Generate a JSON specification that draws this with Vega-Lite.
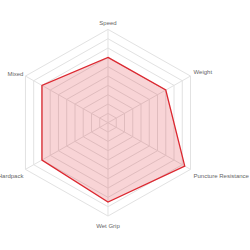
{
  "$schema": "https://vega.github.io/schema/vega-lite/v6.json",
  "width": 250,
  "height": 250,
  "autosize": {"type": "none"},
  "padding": 0,
  "background": "white",
  "config": {"view": {"stroke": null}, "text": {"font": "Liberation Sans", "fontSize": 6, "fill": "#666666"}},
  "datasets": {
    "scores": [
      {"axis": "Speed", "idx": 0, "value": 70},
      {"axis": "Weight", "idx": 1, "value": 70},
      {"axis": "Puncture Resistance", "idx": 2, "value": 93},
      {"axis": "Wet Grip", "idx": 3, "value": 85},
      {"axis": "Hardpack", "idx": 4, "value": 80},
      {"axis": "Mixed", "idx": 5, "value": 80}
    ],
    "grid": [
      {"idx": 0, "levels": [10, 20, 30, 40, 50, 60, 70, 80, 90, 100]},
      {"idx": 1, "levels": [10, 20, 30, 40, 50, 60, 70, 80, 90, 100]},
      {"idx": 2, "levels": [10, 20, 30, 40, 50, 60, 70, 80, 90, 100]},
      {"idx": 3, "levels": [10, 20, 30, 40, 50, 60, 70, 80, 90, 100]},
      {"idx": 4, "levels": [10, 20, 30, 40, 50, 60, 70, 80, 90, 100]},
      {"idx": 5, "levels": [10, 20, 30, 40, 50, 60, 70, 80, 90, 100]}
    ]
  },
  "encoding": {
    "x": {"field": "px", "type": "quantitative", "scale": {"domain": [-113.3, 149], "nice": false, "zero": false}, "axis": null},
    "y": {"field": "py", "type": "quantitative", "scale": {"domain": [-136.4, 131.5], "nice": false, "zero": false}, "axis": null}
  },
  "layer": [
    {
      "data": {"name": "grid"},
      "transform": [
        {"flatten": ["levels"], "as": ["level"]},
        {"calculate": "datum.level * sin(datum.idx * PI / 3)", "as": "px"},
        {"calculate": "datum.level * cos(datum.idx * PI / 3)", "as": "py"}
      ],
      "mark": {"type": "line", "interpolate": "linear-closed", "stroke": "#e2e2e2", "strokeWidth": 1},
      "encoding": {"detail": {"field": "level"}, "order": {"field": "idx", "type": "quantitative"}}
    },
    {
      "data": {"name": "grid"},
      "transform": [
        {"calculate": "100 * sin(datum.idx * PI / 3)", "as": "px"},
        {"calculate": "100 * cos(datum.idx * PI / 3)", "as": "py"}
      ],
      "mark": {"type": "rule", "stroke": "#e2e2e2", "strokeWidth": 1},
      "encoding": {"x2": {"datum": 0}, "y2": {"datum": 0}}
    },
    {
      "data": {"name": "scores"},
      "transform": [
        {"calculate": "datum.value * sin(datum.idx * PI / 3)", "as": "px"},
        {"calculate": "datum.value * cos(datum.idx * PI / 3)", "as": "py"}
      ],
      "mark": {"type": "line", "interpolate": "linear-closed", "fill": "#dc2830", "fillOpacity": 0.2, "stroke": "#dc2830", "strokeWidth": 1.3},
      "encoding": {"order": {"field": "idx", "type": "quantitative"}}
    },
    {
      "data": {"name": "scores"},
      "transform": [
        {"filter": "datum.idx == 0"},
        {"calculate": "100 * sin(datum.idx * PI / 3)", "as": "px"},
        {"calculate": "100 * cos(datum.idx * PI / 3)", "as": "py"}
      ],
      "mark": {"type": "text", "align": "center", "baseline": "alphabetic", "dy": -4},
      "encoding": {"text": {"field": "axis"}}
    },
    {
      "data": {"name": "scores"},
      "transform": [
        {"filter": "datum.idx == 3"},
        {"calculate": "100 * sin(datum.idx * PI / 3)", "as": "px"},
        {"calculate": "100 * cos(datum.idx * PI / 3)", "as": "py"}
      ],
      "mark": {"type": "text", "align": "center", "baseline": "alphabetic", "dy": 11.5},
      "encoding": {"text": {"field": "axis"}}
    },
    {
      "data": {"name": "scores"},
      "transform": [
        {"filter": "datum.idx == 1"},
        {"calculate": "100 * sin(datum.idx * PI / 3)", "as": "px"},
        {"calculate": "100 * cos(datum.idx * PI / 3)", "as": "py"}
      ],
      "mark": {"type": "text", "align": "left", "baseline": "alphabetic", "dx": 3, "dy": -2},
      "encoding": {"text": {"field": "axis"}}
    },
    {
      "data": {"name": "scores"},
      "transform": [
        {"filter": "datum.idx == 2"},
        {"calculate": "100 * sin(datum.idx * PI / 3)", "as": "px"},
        {"calculate": "100 * cos(datum.idx * PI / 3)", "as": "py"}
      ],
      "mark": {"type": "text", "align": "left", "baseline": "alphabetic", "dx": 3, "dy": 9},
      "encoding": {"text": {"field": "axis"}}
    },
    {
      "data": {"name": "scores"},
      "transform": [
        {"filter": "datum.idx == 5"},
        {"calculate": "100 * sin(datum.idx * PI / 3)", "as": "px"},
        {"calculate": "100 * cos(datum.idx * PI / 3)", "as": "py"}
      ],
      "mark": {"type": "text", "align": "right", "baseline": "alphabetic", "dx": -2, "dy": -0.5},
      "encoding": {"text": {"field": "axis"}}
    },
    {
      "data": {"name": "scores"},
      "transform": [
        {"filter": "datum.idx == 4"},
        {"calculate": "100 * sin(datum.idx * PI / 3)", "as": "px"},
        {"calculate": "100 * cos(datum.idx * PI / 3)", "as": "py"}
      ],
      "mark": {"type": "text", "align": "right", "baseline": "alphabetic", "dx": -2, "dy": 8.5},
      "encoding": {"text": {"field": "axis"}}
    }
  ]
}
